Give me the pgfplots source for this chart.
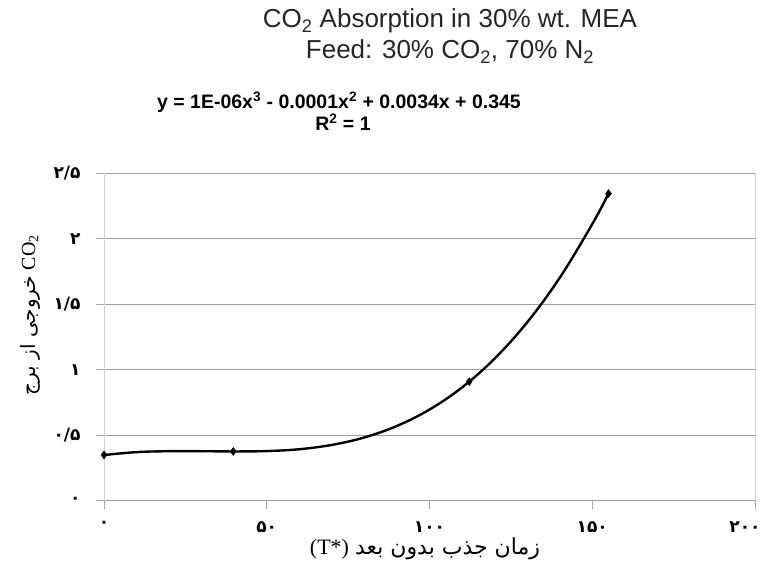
\documentclass[border=0pt]{standalone}
\usepackage{pgfplots}
\pgfplotsset{compat=1.18}
\usepackage{fontspec}
\setmainfont{Liberation Sans}
\newfontfamily\serif{Liberation Serif}
\newfontfamily\fa[Script=Arabic]{DejaVu Sans}
\TeXXeTstate=1
\begin{document}
\begin{tikzpicture}[x=1pt,y=1pt]
\path[use as bounding box] (0,0) rectangle (763,574);
\begin{axis}[
  at={(104pt,73.3pt)}, anchor=south west,
  scale only axis, width=651pt, height=327.4pt,
  xmin=0, xmax=200, ymin=0, ymax=2.5,
  xtick={0,50,100,150,200},
  ytick={0,0.5,1,1.5,2,2.5},
  xticklabels={۰,۵۰,۱۰۰,۱۵۰,\hspace*{-20pt}۲۰۰},
  yticklabels={۰,۰/۵,۱,۱/۵,۲,۲/۵},
  xtick pos=bottom, ytick pos=left,
  tick align=outside, major tick length=8pt,
  tick style={draw=gray!70, line width=0.8pt},
  ymajorgrids, grid style={draw=gray!75, line width=1pt},
  separate axis lines,
  every outer x axis line/.append style={draw=gray!75, line width=1.2pt},
  every outer y axis line/.append style={draw=gray!35, line width=1pt},
  ticklabel style={font=\fa\bfseries\fontsize{17}{17}\selectfont},
  xticklabel style={yshift=-9pt},
  yticklabel style={xshift=-12pt},
  clip=false,
]
% trendline
\addplot[black, line width=2.4pt, smooth, tension=0.6, no marks] coordinates {
(0,0.349) (10,0.371) (20,0.378) (30,0.378) (40,0.376) (50,0.379)
(60,0.393) (70,0.426) (80,0.483) (90,0.571) (100,0.696) (110,0.865)
(120,1.085) (130,1.362) (140,1.702) (150,2.112) (155,2.345)};
% measured points
\addplot[only marks, mark=diamond*, mark size=4pt, black] coordinates {
(0,0.349) (39.7,0.376) (112.2,0.909) (155.0,2.345)};
\end{axis}
% titles
\node[font=\fontsize{26}{30}\selectfont, color=black!85, anchor=base] at (450,546) {CO\textsubscript{2} Absorption in 30\% wt. MEA};
\node[font=\fontsize{26}{30}\selectfont, color=black!85, anchor=base] at (450,515) {Feed: 30\% CO\textsubscript{2}, 70\% N\textsubscript{2}};
\node[font=\bfseries\fontsize{19.5}{22}\selectfont, anchor=base] at (339,465) {y = 1E-06x\textsuperscript{3} - 0.0001x\textsuperscript{2} + 0.0034x + 0.345};
\node[font=\bfseries\fontsize{19.5}{22}\selectfont, anchor=base] at (343,443) {R\textsuperscript{2} = 1};
% axis labels
\node[anchor=center] at (425,25) {\fontsize{22}{26}\selectfont{\serif (T*)} {\fa\beginR زمان جذب بدون بعد\endR}};
\node[rotate=90, anchor=center] at (30,259) {\fontsize{20}{24}\selectfont{\fa\beginR خروجی از برج\endR} {\serif CO\textsubscript{2}}};
\end{tikzpicture}
\end{document}
